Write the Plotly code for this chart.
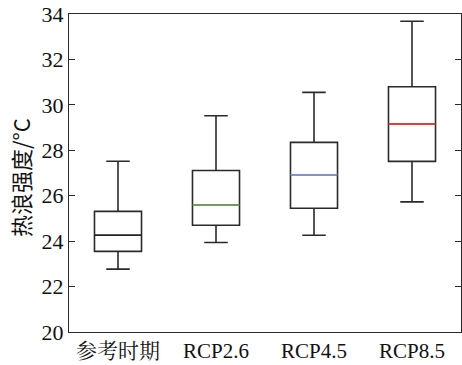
import plotly.graph_objects as go

categories = ["参考时期", "RCP2.6", "RCP4.5", "RCP8.5"]
lower = [22.77, 23.94, 24.26, 25.73]
q1 = [23.55, 24.70, 25.45, 27.51]
median = [24.26, 25.59, 26.92, 29.15]
q3 = [25.31, 27.11, 28.35, 30.80]
upper = [27.52, 29.52, 30.55, 33.68]
median_colors = ["#222222", "#7aae5a", "#7e92d6", "#f03a3a"]
y_title = "热浪强度/°C"

SERIF = "Liberation Serif, Times New Roman, Noto Serif CJK SC, Noto Sans CJK SC, serif"
LINE = "#2a2a2a"

fig = go.Figure()
fig.add_trace(go.Box(
    x=categories, q1=q1, median=median, q3=q3,
    lowerfence=lower, upperfence=upper,
    line=dict(color=LINE, width=1.6), fillcolor="rgba(0,0,0,0)",
    width=0.48, whiskerwidth=0.5, boxpoints=False, hoverinfo="skip",
    showlegend=False,
))
for i, c in enumerate(categories):
    m = median[i]
    fig.add_trace(go.Box(
        x=[c], q1=[m], median=[m], q3=[m], lowerfence=[m], upperfence=[m],
        line=dict(color=median_colors[i], width=1.6), fillcolor="rgba(0,0,0,0)",
        width=0.48, whiskerwidth=0, boxpoints=False, hoverinfo="skip",
        showlegend=False,
    ))

fig.add_annotation(
    text=y_title, textangle=-90, xref="paper", yref="paper",
    x=(20 - 69) / 392, y=(332 - 178) / 318, xanchor="center", yanchor="middle",
    showarrow=False, font=dict(family="Noto Sans CJK SC, " + SERIF, size=22, color="#111111"),
)

fig.update_layout(
    width=462, height=365,
    margin=dict(l=69, r=1, t=14, b=33, autoexpand=False),
    paper_bgcolor="white", plot_bgcolor="white",
    boxmode="overlay",
    font=dict(family=SERIF, size=21, color="#111111"),
    xaxis=dict(
        type="category", categoryorder="array", categoryarray=categories,
        range=[-0.5, 3.5], showline=True, linecolor=LINE, linewidth=1.3,
        mirror=True, ticks="", showgrid=False, zeroline=False, automargin=False,
        tickfont=dict(family=SERIF, size=21),
    ),
    yaxis=dict(
        range=[20, 34], dtick=2, tick0=20, showline=True, linecolor=LINE,
        linewidth=1.3, mirror="ticks", ticks="inside", ticklen=6,
        tickcolor=LINE, tickwidth=1.3, showgrid=False, zeroline=False,
        automargin=False,
        tickfont=dict(family=SERIF, size=22),
    ),
)

fig.write_html(
    "out.html",
    config={"displayModeBar": False},
    post_script="document.body.style.margin='0';document.body.style.overflow='hidden';",
)
